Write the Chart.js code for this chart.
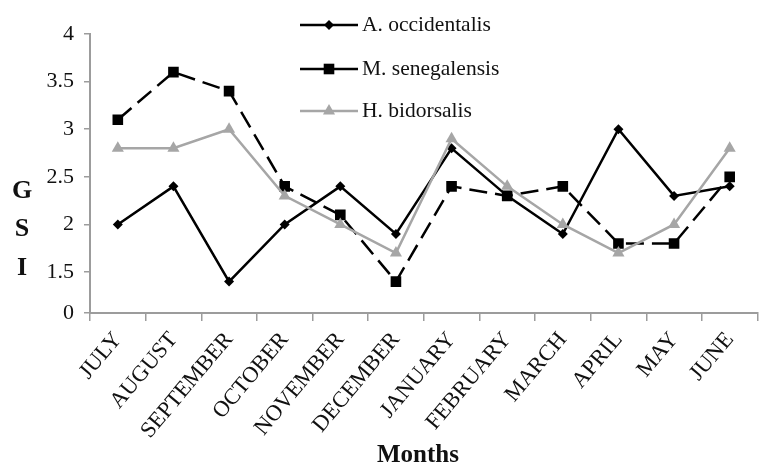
<!DOCTYPE html>
<html>
<head>
<meta charset="utf-8">
<title>GSI by month</title>
<script src="https://cdn.jsdelivr.net/npm/chart.js@4/dist/chart.umd.min.js"></script>
<style>
  html, body { margin: 0; padding: 0; background: #fff; overflow: hidden; }
  #wrap { width: 759px; height: 468px; overflow: hidden; }
  canvas { display: block; }
</style>
</head>
<body>
<div id="wrap"><canvas id="gsi" width="765" height="468"></canvas></div>
<script>
// Monthly gonadosomatic index (GSI) for three species
const months = ['JULY', 'AUGUST', 'SEPTEMBER', 'OCTOBER', 'NOVEMBER', 'DECEMBER',
                'JANUARY', 'FEBRUARY', 'MARCH', 'APRIL', 'MAY', 'JUNE'];
const occidentalis = [2.0, 2.4, 1.4, 2.0, 2.4, 1.9, 2.8, 2.3, 1.9, 3.0, 2.3, 2.4];
const senegalensis = [3.1, 3.6, 3.4, 2.4, 2.1, 1.4, 2.4, 2.3, 2.4, 1.8, 1.8, 2.5];
const bidorsalis   = [2.8, 2.8, 3.0, 2.3, 2.0, 1.7, 2.9, 2.4, 2.0, 1.7, 2.0, 2.8];
const seriesNames  = ['A. occidentalis', 'M. senegalensis', 'H. bidorsalis'];

// Value axis: broken scale, the lowest tick stands for zero
const yTickValues = [1.07, 1.5, 2, 2.5, 3, 3.5, 4];
const yTickLabels = ['0', '1.5', '2', '2.5', '3', '3.5', '4'];

const SERIF = '"Liberation Serif", "Times New Roman", serif';
const GREY = '#a6a6a6';
const AXIS = '#9c9c9c';

const styles = [
  { color: '#000', dash: [], shape: 'rectRot', r: 5 },
  { color: '#000', dash: [18, 8], shape: 'rect', r: 7.5 },
  { color: GREY, dash: [], shape: 'triangle', r: 7 }
];

function marker(ctx, shape, x, y, r) {
  ctx.beginPath();
  if (shape === 'rectRot') {
    ctx.moveTo(x, y - r); ctx.lineTo(x + r, y); ctx.lineTo(x, y + r); ctx.lineTo(x - r, y);
  } else if (shape === 'rect') {
    const s = r * Math.SQRT1_2;
    ctx.rect(x - s, y - s, 2 * s, 2 * s);
  } else {
    const a = 2 * Math.PI / 3;
    ctx.moveTo(x, y - r);
    ctx.lineTo(x + Math.sin(a) * r, y - Math.cos(a) * r);
    ctx.lineTo(x + Math.sin(2 * a) * r, y - Math.cos(2 * a) * r);
  }
  ctx.closePath();
  ctx.fill();
}

// Legend, stacked axis title and x-axis title
const annotations = {
  id: 'annotations',
  afterDraw(chart) {
    const ctx = chart.ctx;
    ctx.save();
    // legend
    const lx0 = 300, lx1 = 358, rows = [25, 69, 111];
    ctx.font = '21.5px ' + SERIF;
    ctx.textBaseline = 'middle';
    ctx.textAlign = 'left';
    seriesNames.forEach((name, i) => {
      const st = styles[i], y = rows[i];
      ctx.strokeStyle = st.color;
      ctx.fillStyle = st.color;
      ctx.lineWidth = 2.5;
      ctx.setLineDash([]);
      ctx.beginPath(); ctx.moveTo(lx0, y); ctx.lineTo(lx1, y); ctx.stroke();
      marker(ctx, st.shape, (lx0 + lx1) / 2, y, st.r);
      ctx.fillStyle = '#111';
      ctx.fillText(name, lx1 + 4, y);
    });
    // stacked "GSI"
    ctx.font = 'bold 26px ' + SERIF;
    ctx.textAlign = 'center';
    ctx.fillStyle = '#111';
    [['G', 191], ['S', 229], ['I', 268]].forEach(([t, y]) => ctx.fillText(t, 22, y));
    // x-axis title
    ctx.font = 'bold 25px ' + SERIF;
    ctx.fillText('Months', 418, 456);
    ctx.restore();
  }
};

new Chart(document.getElementById('gsi'), {
  type: 'line',
  data: {
    labels: months,
    datasets: [occidentalis, senegalensis, bidorsalis].map((vals, i) => ({
      label: seriesNames[i],
      data: vals,
      borderColor: styles[i].color,
      backgroundColor: styles[i].color,
      borderWidth: 2.5,
      borderDash: styles[i].dash,
      pointStyle: styles[i].shape,
      pointRadius: styles[i].r,
      pointBorderWidth: 0,
      tension: 0,
      order: 2 - i
    }))
  },
  plugins: [annotations],
  options: {
    responsive: false,
    animation: false,
    devicePixelRatio: 1,
    layout: { padding: { top: 34, right: 0, bottom: 0, left: 0 } },
    plugins: { legend: { display: false }, tooltip: { enabled: false } },
    scales: {
      x: {
        offset: true,
        grid: { offset: true, drawOnChartArea: false, drawTicks: true, tickLength: 8, color: AXIS, lineWidth: 1.5 },
        border: { color: AXIS, width: 2 },
        ticks: {
          autoSkip: false, minRotation: 50, maxRotation: 50, padding: 6,
          color: '#111', font: { family: SERIF, size: 22.5 }
        },
        afterFit(scale) { scale.height = 155; }
      },
      y: {
        min: yTickValues[0],
        max: yTickValues[yTickValues.length - 1],
        grid: { drawOnChartArea: false, drawTicks: true, tickLength: 6, color: AXIS, lineWidth: 1.5 },
        border: { color: AXIS, width: 2 },
        afterBuildTicks(scale) { scale.ticks = yTickValues.map(v => ({ value: v })); },
        ticks: {
          padding: 10, color: '#111', font: { family: SERIF, size: 22 },
          callback: (v) => yTickLabels[yTickValues.indexOf(v)]
        },
        afterFit(scale) { scale.width = 90; }
      }
    }
  }
});
</script>
</body>
</html>
